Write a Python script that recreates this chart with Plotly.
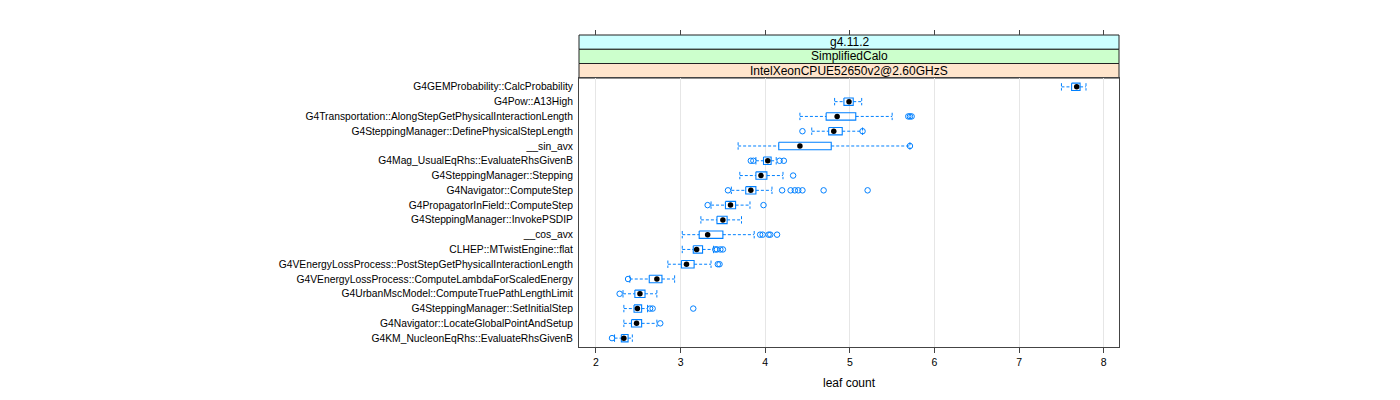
import plotly.graph_objects as go

functions = [
    "G4GEMProbability::CalcProbability",
    "G4Pow::A13High",
    "G4Transportation::AlongStepGetPhysicalInteractionLength",
    "G4SteppingManager::DefinePhysicalStepLength",
    "__sin_avx",
    "G4Mag_UsualEqRhs::EvaluateRhsGivenB",
    "G4SteppingManager::Stepping",
    "G4Navigator::ComputeStep",
    "G4PropagatorInField::ComputeStep",
    "G4SteppingManager::InvokePSDIP",
    "__cos_avx",
    "CLHEP::MTwistEngine::flat",
    "G4VEnergyLossProcess::PostStepGetPhysicalInteractionLength",
    "G4VEnergyLossProcess::ComputeLambdaForScaledEnergy",
    "G4UrbanMscModel::ComputeTruePathLengthLimit",
    "G4SteppingManager::SetInitialStep",
    "G4Navigator::LocateGlobalPointAndSetup",
    "G4KM_NucleonEqRhs::EvaluateRhsGivenB",
]
whisker_lo = [7.50, 4.82, 4.41, 4.55, 3.68, 3.89, 3.70, 3.60, 3.36, 3.24, 3.02, 3.02, 2.85, 2.40, 2.32, 2.33, 2.33, 2.22]
q1 =         [7.62, 4.93, 4.72, 4.75, 4.16, 3.98, 3.89, 3.77, 3.53, 3.43, 3.22, 3.15, 3.01, 2.63, 2.46, 2.45, 2.42, 2.30]
median =     [7.68, 4.99, 4.85, 4.81, 4.41, 4.03, 3.95, 3.83, 3.59, 3.50, 3.32, 3.19, 3.07, 2.72, 2.52, 2.49, 2.48, 2.33]
q3 =         [7.72, 5.04, 5.07, 4.91, 4.78, 4.07, 4.02, 3.89, 3.65, 3.55, 3.50, 3.26, 3.16, 2.78, 2.58, 2.54, 2.54, 2.38]
whisker_hi = [7.79, 5.14, 5.50, 5.15, 5.71, 4.13, 4.21, 4.08, 3.82, 3.72, 3.87, 3.39, 3.36, 2.93, 2.72, 2.61, 2.72, 2.43]
outliers = [
    [],
    [],
    [5.69, 5.71, 5.73],
    [4.44, 5.15],
    [5.71],
    [3.83, 3.86, 4.17, 4.22],
    [4.33],
    [3.56, 4.20, 4.30, 4.35, 4.39, 4.44, 4.69, 5.21],
    [3.32, 3.98],
    [],
    [3.94, 3.97, 4.04, 4.06, 4.14],
    [3.41, 3.43, 3.47, 3.50],
    [3.44, 3.46],
    [2.38],
    [2.28],
    [2.64, 2.67, 3.15],
    [2.76],
    [2.19],
]
strips = ["g4.11.2", "SimplifiedCalo", "IntelXeonCPUE52650v2@2.60GHzS"]
strip_colors = ["#ccffff", "#ccffcc", "#ffe5cc"]
x_ticks = [2, 3, 4, 5, 6, 7, 8]

BLUE = "#0080ff"
H = 0.25
n = len(functions)
ys = list(range(n))

fig = go.Figure()

# whiskers (dashed)
wx, wy = [], []
for i in ys:
    wx += [whisker_lo[i], q1[i], None, q3[i], whisker_hi[i], None]
    wy += [i, i, None, i, i, None]
    wx += [whisker_lo[i], whisker_lo[i], None, whisker_hi[i], whisker_hi[i], None]
    wy += [i - H, i + H, None, i - H, i + H, None]
fig.add_trace(go.Scatter(x=wx, y=wy, mode="lines", line=dict(color=BLUE, width=1, dash="3px,2px"),
                         hoverinfo="skip", showlegend=False))

# boxes
bx, by = [], []
for i in ys:
    bx += [q1[i], q3[i], q3[i], q1[i], q1[i], None]
    by += [i - H, i - H, i + H, i + H, i - H, None]
fig.add_trace(go.Scatter(x=bx, y=by, mode="lines", line=dict(color=BLUE, width=1.1),
                         hoverinfo="skip", showlegend=False))

# outliers
ox, oy = [], []
for i in ys:
    for v in outliers[i]:
        ox.append(v)
        oy.append(i)
fig.add_trace(go.Scatter(x=ox, y=oy, mode="markers",
                         marker=dict(symbol="circle-open", size=5.5, color=BLUE, line=dict(width=1)),
                         showlegend=False))

# medians
fig.add_trace(go.Scatter(x=median, y=ys, mode="markers",
                         marker=dict(symbol="circle", size=5.5, color="black"),
                         showlegend=False))

# invisible trace for top axis
fig.add_trace(go.Scatter(x=[x_ticks[0]], y=[0], xaxis="x2", mode="markers",
                         marker=dict(opacity=0), hoverinfo="skip", showlegend=False))

# page has an 8px body margin: work in figure coordinates (screen - 8)
OFF = 8
W, HT = 1392, 392
panel_left, panel_right = 579 - OFF, 1119 - OFF
panel_top, panel_bottom = 78 - OFF, 347 - OFF
strip_edges = [e - OFF for e in (35, 49.3, 63.5, 78)]
L, R, T, B = panel_left, W - panel_right, strip_edges[0], HT - panel_bottom
plot_h = HT - T - B
dom_top = (panel_bottom - panel_top) / plot_h

xr = [1.80, 8.18]
fig.update_layout(
    width=W, height=HT,
    margin=dict(l=L, r=R, t=T, b=B, autoexpand=False),
    paper_bgcolor="white", plot_bgcolor="white",
    font=dict(family="Liberation Sans, Arial, sans-serif", size=10, color="black"),
    xaxis=dict(range=xr, tickvals=x_ticks, ticks="outside", ticklen=5, tickcolor="#444",
               showline=True, linecolor="#444", linewidth=1, mirror=True, automargin=False,
               showgrid=True, gridcolor="#e6e6e6", gridwidth=1, zeroline=False,
               tickfont=dict(size=10.5)),
    xaxis2=dict(range=xr, overlaying="x", side="top", anchor="free", position=1,
                tickvals=x_ticks, ticks="outside", ticklen=5, tickcolor="#444", automargin=False,
                showticklabels=False, showgrid=False, zeroline=False, showline=False),
    yaxis=dict(domain=[0, dom_top], range=[n - 1 + 0.6, -0.6], tickvals=ys, ticktext=functions,
               showline=True, linecolor="#444", linewidth=1, mirror=True, automargin=False,
               showgrid=False, zeroline=False, ticks="", ticklabelstandoff=3,
               tickfont=dict(size=10.3)),
)

shapes = []
annotations = []
for k, (label, col) in enumerate(zip(strips, strip_colors)):
    top_px, bot_px = strip_edges[k], strip_edges[k + 1]
    y0 = (panel_bottom - bot_px) / plot_h
    y1 = (panel_bottom - top_px) / plot_h
    shapes.append(dict(type="rect", xref="paper", yref="paper", x0=0, x1=1, y0=y0, y1=y1,
                       fillcolor=col, line=dict(color="#222", width=1), layer="below"))
    annotations.append(dict(xref="paper", yref="paper", x=0.5, y=(y0 + y1) / 2, text=label,
                            showarrow=False, xanchor="center", yanchor="middle",
                            font=dict(size=12)))
annotations.append(dict(xref="paper", yref="paper", x=0.5, y=(panel_bottom - (383 - OFF)) / plot_h,
                        text="leaf count", showarrow=False, xanchor="center", yanchor="middle",
                        font=dict(size=12)))
fig.update_layout(shapes=shapes, annotations=annotations)

fig.write_html("out.html")
